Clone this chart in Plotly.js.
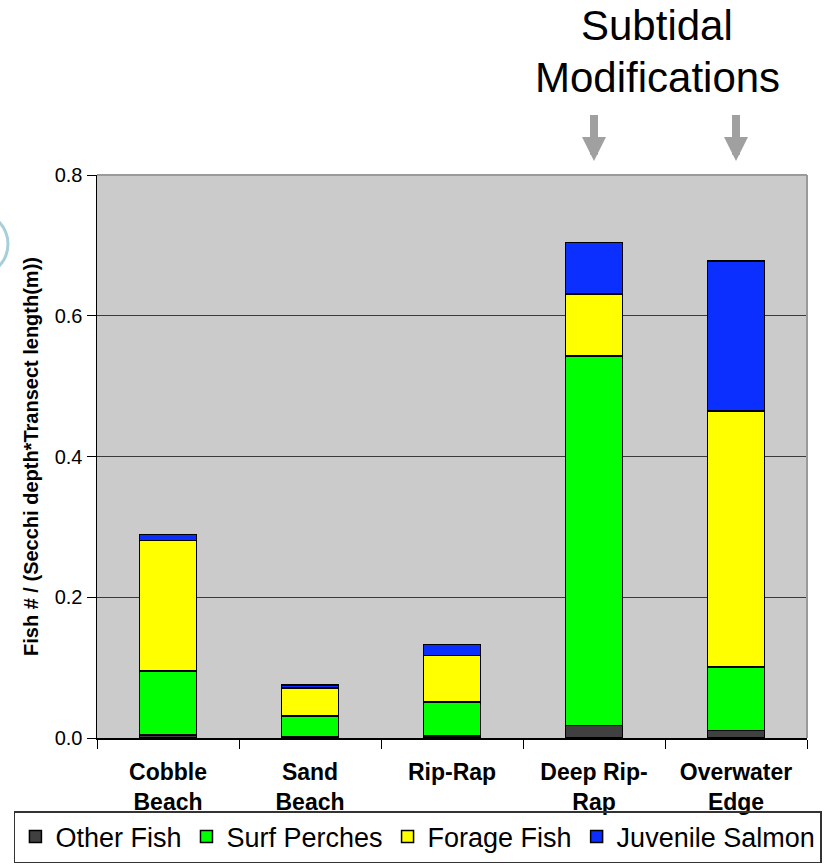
<!DOCTYPE html>
<html>
<head>
<meta charset="utf-8">
<script src="https://cdn.plot.ly/plotly-3.0.1.min.js"></script>
<style>
  html, body { margin: 0; padding: 0; background: #ffffff; }
  #chart { width: 825px; height: 866px; }
</style>
</head>
<body>
<div id="chart"></div>
<script>
// Shoreline habitat types
const habitats = ["Cobble<br>Beach", "Sand<br>Beach", "Rip-Rap", "Deep Rip-<br>Rap", "Overwater<br>Edge"];

// Fish density by group, stacked bottom to top
const otherFish      = [0.004, 0.002, 0.003, 0.018, 0.011];
const surfPerches    = [0.091, 0.029, 0.048, 0.525, 0.090];
const forageFish     = [0.186, 0.040, 0.066, 0.088, 0.364];
const juvenileSalmon = [0.008, 0.004, 0.016, 0.073, 0.213];

const seriesNames  = ["Other Fish", "Surf Perches", "Forage Fish", "Juvenile Salmon"];
const seriesValues = [otherFish, surfPerches, forageFish, juvenileSalmon];
const seriesColors = ["#404040", "#00ff00", "#ffff00", "#0a2fff"];

// Sites that received subtidal modifications (marked with arrows)
const modifiedSites = ["Deep Rip-<br>Rap", "Overwater<br>Edge"];

const FONT = "Liberation Sans, Arial, sans-serif";

const traces = seriesNames.map((name, i) => ({
  type: "bar",
  name: name,
  x: habitats,
  y: seriesValues[i],
  marker: { color: seriesColors[i], line: { color: "#000000", width: 1.5 } },
  hoverinfo: "x+y+name"
}));

const arrowNotes = modifiedSites.map(site => ({
  xref: "x", yref: "paper",
  x: site, y: 1.025,
  text: " ", font: { size: 1 },
  showarrow: true,
  ax: 0, ay: -48,
  arrowhead: 2, arrowsize: 0.6, arrowwidth: 8,
  arrowcolor: "#a0a0a0",
  standoff: 0, startstandoff: 0
}));

const layout = {
  width: 825, height: 866,
  margin: { l: 97, r: 18, t: 175, b: 128, autoexpand: false },
  paper_bgcolor: "#ffffff",
  plot_bgcolor: "#cbcbcb",
  barmode: "stack",
  bargap: 0.6,
  font: { family: FONT, color: "#000000" },
  showlegend: true,
  legend: {
    orientation: "h",
    traceorder: "normal",
    x: -0.117, xanchor: "left",
    y: -0.1297, yanchor: "top",
    font: { family: FONT, size: 27, color: "#000000" },
    bordercolor: "#333333", borderwidth: 1.5,
    bgcolor: "rgba(255,255,255,0)",
    itemwidth: 30
  },
  xaxis: {
    type: "category",
    tickson: "boundaries",
    ticks: "outside", ticklen: 9, tickcolor: "#000000", tickwidth: 1,
    showline: true, linecolor: "#000000", linewidth: 1.5,
    showgrid: false,
    ticklabelstandoff: 13,
    tickfont: { family: FONT, size: 23, weight: "bold", color: "#000000" },
    automargin: false,
    fixedrange: true
  },
  yaxis: {
    range: [0, 0.8],
    dtick: 0.2,
    tickformat: ".1f",
    ticks: "outside", ticklen: 9, tickcolor: "#000000", tickwidth: 1,
    showline: true, linecolor: "#000000", linewidth: 1.5,
    showgrid: true, gridcolor: "#3a3a3a", gridwidth: 1,
    zeroline: false,
    tickfont: { family: FONT, size: 20, color: "#000000" },
    title: {
      text: "Fish # / (Secchi depth*Transect length(m))",
      font: { family: FONT, size: 20, weight: "bold", color: "#000000" },
      standoff: 10
    },
    automargin: false,
    fixedrange: true
  },
  shapes: [
    // light frame on the top and right edges of the plotting area
    { type: "line", xref: "paper", yref: "paper", x0: 0, x1: 1, y0: 1, y1: 1,
      line: { color: "#9a9a9a", width: 2 } },
    { type: "line", xref: "paper", yref: "paper", x0: 1, x1: 1, y0: 0, y1: 1,
      line: { color: "#9a9a9a", width: 2 } },
    // partial ring at the left edge
    { type: "circle", xref: "paper", yref: "paper",
      x0: -0.2183, x1: -0.1254, y0: 0.82, y1: 0.935,
      line: { color: "#a6cfdb", width: 3 } }
  ],
  annotations: [
    { xref: "paper", yref: "paper", x: 0.789, y: 1.2664, xanchor: "center", yanchor: "middle",
      text: "Subtidal", showarrow: false,
      font: { family: FONT, size: 42, color: "#000000" } },
    { xref: "paper", yref: "paper", x: 0.789, y: 1.174, xanchor: "center", yanchor: "middle",
      text: "Modifications", showarrow: false,
      font: { family: FONT, size: 42, color: "#000000" } }
  ].concat(arrowNotes)
};

Plotly.newPlot("chart", traces, layout, { displayModeBar: false, staticPlot: true });
</script>
</body>
</html>
